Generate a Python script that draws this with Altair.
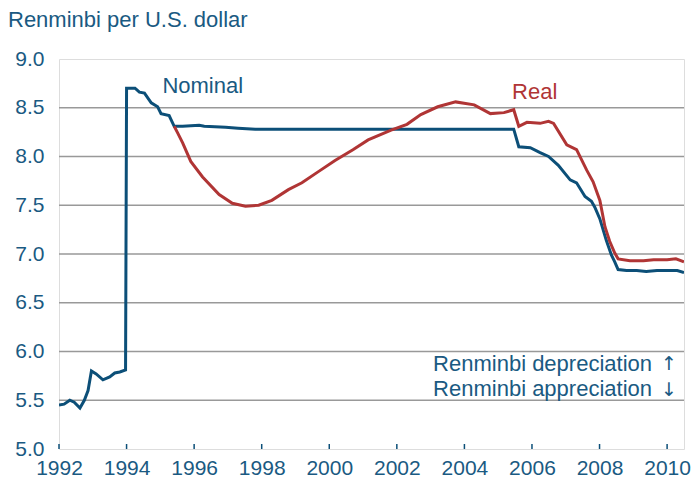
import altair as alt
import pandas as pd

# Nominal exchange rate (renminbi per U.S. dollar)
nom_t = [1992.0, 1992.15, 1992.32, 1992.45, 1992.62, 1992.75, 1992.86, 1992.96, 1993.1, 1993.3,
         1993.5, 1993.65, 1993.8, 1993.97, 1994.0, 1994.25, 1994.38, 1994.53, 1994.73, 1994.92,
         1995.02, 1995.26, 1995.41, 1995.66, 1996.15, 1996.3, 1996.93, 1997.3, 1997.81, 2000.0,
         2003.0, 2005.46, 2005.61, 2005.95, 2006.24, 2006.49, 2006.78, 2007.13, 2007.32, 2007.57,
         2007.76, 2007.86, 2008.01, 2008.2, 2008.35, 2008.45, 2008.55, 2008.8, 2009.1, 2009.38,
         2009.7, 2010.0, 2010.3, 2010.5]
nom_v = [5.45, 5.46, 5.50, 5.48, 5.42, 5.50, 5.60, 5.80, 5.77, 5.71,
         5.74, 5.78, 5.79, 5.81, 8.70, 8.70, 8.66, 8.65, 8.55, 8.51,
         8.44, 8.42, 8.31, 8.31, 8.32, 8.31, 8.30, 8.29, 8.28, 8.28,
         8.28, 8.28, 8.10, 8.09, 8.04, 8.00, 7.91, 7.76, 7.73, 7.59,
         7.54, 7.48, 7.36, 7.14, 6.99, 6.92, 6.84, 6.83, 6.83, 6.82,
         6.83, 6.83, 6.83, 6.81]

# Real exchange rate
real_t = [1995.41, 1995.5, 1995.66, 1995.9, 1996.25, 1996.74, 1997.13, 1997.52, 1997.91, 1998.3,
          1998.79, 1999.19, 1999.7, 2000.17, 2000.7, 2001.15, 2001.83, 2002.3, 2002.71, 2003.21,
          2003.74, 2004.29, 2004.77, 2005.17, 2005.46, 2005.61, 2005.85, 2006.24, 2006.49, 2006.64,
          2007.03, 2007.32, 2007.62, 2007.81, 2008.01, 2008.16, 2008.3, 2008.45, 2008.55, 2008.9,
          2009.3, 2009.6, 2010.0, 2010.26, 2010.5]
real_v = [8.31, 8.25, 8.14, 7.95, 7.79, 7.61, 7.52, 7.49, 7.50, 7.55,
          7.66, 7.73, 7.85, 7.96, 8.07, 8.17, 8.27, 8.33, 8.43, 8.51,
          8.56, 8.53, 8.44, 8.45, 8.48, 8.31, 8.35, 8.34, 8.36, 8.34,
          8.12, 8.07, 7.86, 7.74, 7.55, 7.28, 7.13, 7.01, 6.95, 6.93,
          6.93, 6.94, 6.94, 6.95, 6.92]

x_ticks = [1992, 1994, 1996, 1998, 2000, 2002, 2004, 2006, 2008, 2010]
y_ticks = [5.0, 5.5, 6.0, 6.5, 7.0, 7.5, 8.0, 8.5, 9.0]

BLUE = "#0c4f78"
TEXT = "#1a5a82"
RED = "#b03535"
FONT = "Liberation Sans"

df = pd.concat([
    pd.DataFrame({"year": nom_t, "value": nom_v, "series": "Nominal"}),
    pd.DataFrame({"year": real_t, "value": real_v, "series": "Real"}),
])

xs = alt.Scale(domain=[1992, 2010.5], nice=False, zero=False)
ys = alt.Scale(domain=[5.0, 9.0], nice=False, zero=False)

base = alt.Chart(df)

grid = alt.Chart(pd.DataFrame({"y": y_ticks[1:-1]})).mark_rule(
    color="#999999", strokeWidth=1.5
).encode(y=alt.Y("y:Q", scale=ys))

lines = base.mark_line(strokeWidth=3, clip=True).encode(
    x=alt.X("year:Q", scale=xs,
            axis=alt.Axis(values=x_ticks, format="d", title=None, grid=False,
                          domain=False, ticks=False, labelFontSize=21,
                          labelColor=TEXT, labelPadding=8, labelFont=FONT,
                          labelFlush=False, labelOverlap=False)),
    y=alt.Y("value:Q", scale=ys,
            axis=alt.Axis(values=y_ticks, format=".1f", title=None, grid=False,
                          domain=False, ticks=False, labelFontSize=21,
                          labelColor=TEXT, labelPadding=15, labelFont=FONT,
                          labelFlush=False, labelOverlap=False)),
    color=alt.Color("series:N", scale=alt.Scale(domain=["Nominal", "Real"], range=[BLUE, RED]),
                    legend=None),
    order=alt.Order("series:N", sort="descending"),
)

ticks = alt.Chart(pd.DataFrame({"x": x_ticks})).mark_rule(color=BLUE, strokeWidth=1.5).encode(
    x=alt.X("x:Q", scale=xs), y=alt.value(390), y2=alt.value(385)
)

labels = alt.Chart(pd.DataFrame({
    "x": [1995.06, 2005.41],
    "y": [8.72, 8.66],
    "t": ["Nominal", "Real"],
    "c": [TEXT, RED],
})).mark_text(align="left", baseline="middle", fontSize=22, font=FONT).encode(
    x=alt.X("x:Q", scale=xs), y=alt.Y("y:Q", scale=ys), text="t:N",
    color=alt.Color("c:N", scale=None),
)

notes = alt.Chart(pd.DataFrame({
    "t": ["Renminbi depreciation", "Renminbi appreciation"],
    "py": [305, 330],
})).mark_text(align="right", baseline="middle", fontSize=22, font=FONT, color=TEXT).encode(
    x=alt.value(593), y=alt.Y("py:Q", scale=None), text="t:N"
)

arrows = alt.Chart(pd.DataFrame({
    "t": ["↑", "↓"],
    "py": [305, 331],
})).mark_text(align="center", baseline="middle", fontSize=19, font="DejaVu Sans", color=TEXT).encode(
    x=alt.value(610), y=alt.Y("py:Q", scale=None), text="t:N"
)

title = alt.Chart(pd.DataFrame({"t": ["Renminbi per U.S. dollar"]})).mark_text(
    align="left", baseline="middle", fontSize=22, font=FONT, color=TEXT
).encode(x=alt.value(-51), y=alt.value(-39), text="t:N")

chart = alt.layer(grid, lines, ticks, labels, notes, arrows, title).properties(
    width=625, height=390,
    autosize=alt.AutoSizeParams(type="none"),
    padding={"left": 51, "top": 51, "right": 7, "bottom": 30},
).configure_view(stroke=BLUE, strokeWidth=2.5).configure(background="white")

chart.save("out.html", embed_options={"renderer": "svg", "actions": False})
